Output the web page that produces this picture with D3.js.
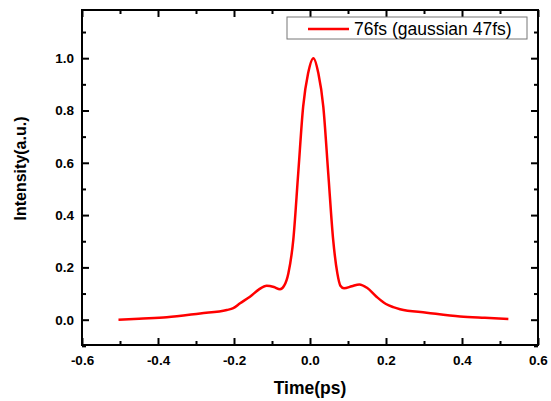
<!DOCTYPE html>
<html>
<head>
<meta charset="utf-8">
<script src="https://cdn.jsdelivr.net/npm/d3@7"></script>
<style>
  body { margin: 0; background: #fff; }
  text { font-family: Arial, "Liberation Sans", sans-serif; }
</style>
</head>
<body>
<svg id="chart" width="551" height="401"></svg>
<script>
// pulse trace
let timePs = [-0.504, -0.45, -0.377, -0.289, -0.219, -0.202, -0.184, -0.158, -0.135, -0.114, -0.095,
  -0.079, -0.068, -0.057, -0.044, -0.031, -0.018, -0.005, 0.009, 0.022, 0.035, 0.048, 0.061,
  0.072, 0.08, 0.0895, 0.11, 0.13, 0.15, 0.175, 0.2, 0.219, 0.237, 0.307, 0.395, 0.46, 0.522];
let intensity = [0.0, 0.004, 0.009, 0.024, 0.037, 0.044, 0.063, 0.088, 0.115, 0.130, 0.125,
  0.116, 0.13, 0.177, 0.305, 0.56, 0.815, 0.942, 1.0, 0.942, 0.815, 0.56, 0.305,
  0.177, 0.13, 0.12, 0.128, 0.135, 0.122, 0.088, 0.06, 0.048, 0.040, 0.027, 0.012, 0.007, 0.003];

let xTicks = [-0.6, -0.4, -0.2, 0.0, 0.2, 0.4, 0.6];
let xMinor = [-0.5, -0.3, -0.1, 0.1, 0.3, 0.5];
let yTicks = [0.0, 0.2, 0.4, 0.6, 0.8, 1.0];
let yMinor = [-0.1, 0.1, 0.3, 0.5, 0.7, 0.9, 1.1];
let seriesName = "76fs (gaussian 47fs)";

let svg = d3.select("#chart");
let pLeft = 82, pRight = 538, pTop = 10, pBottom = 345;

let x = d3.scaleLinear().domain([-0.6, 0.6]).range([pLeft, pRight]);
let y = d3.scaleLinear().domain([-0.1, 1.18]).range([345.85, 11.1]);

// axes with inward ticks on all four sides
function drawAxis(axis, tr, labels) {
  let g = svg.append("g").attr("transform", tr).call(axis);
  g.select(".domain").remove();
  g.selectAll("line").attr("stroke", "#000").attr("stroke-width", 2);
  if (!labels) g.selectAll("text").remove();
  else g.selectAll("text").attr("font-size", 13.5).attr("font-weight", "bold").attr("fill", "#000");
  return g;
}

// plain hyphen for negatives, like the original
let fmt = d => d3.format(".1f")(d).replace("\u2212", "-");
drawAxis(d3.axisBottom(x).tickValues(xTicks).tickSize(-7).tickPadding(10).tickFormat(fmt), `translate(0,${pBottom})`, true);
drawAxis(d3.axisBottom(x).tickValues(xMinor).tickSize(-4), `translate(0,${pBottom})`, false);
drawAxis(d3.axisTop(x).tickValues(xTicks).tickSize(-7), `translate(0,${pTop})`, false);
drawAxis(d3.axisTop(x).tickValues(xMinor).tickSize(-4), `translate(0,${pTop})`, false);
drawAxis(d3.axisLeft(y).tickValues(yTicks).tickSize(-7).tickPadding(8).tickFormat(fmt), `translate(${pLeft},0)`, true);
drawAxis(d3.axisLeft(y).tickValues(yMinor).tickSize(-4), `translate(${pLeft},0)`, false);
drawAxis(d3.axisRight(y).tickValues(yTicks).tickSize(-7), `translate(${pRight},0)`, false);
drawAxis(d3.axisRight(y).tickValues(yMinor).tickSize(-4), `translate(${pRight},0)`, false);

// frame
svg.append("rect")
  .attr("x", pLeft).attr("y", pTop)
  .attr("width", pRight - pLeft).attr("height", pBottom - pTop)
  .attr("fill", "none").attr("stroke", "#000").attr("stroke-width", 2);

// the curve
let pts = timePs.map((t, i) => [t, intensity[i]]);
let line = d3.line()
  .x(d => x(d[0]))
  .y(d => y(d[1]))
  .curve(d3.curveMonotoneX);

svg.append("path")
  .datum(pts)
  .attr("d", line)
  .attr("fill", "none")
  .attr("stroke", "#ff0000")
  .attr("stroke-width", 2.5)
  .attr("stroke-linejoin", "round");

// legend
let lg = svg.append("g");
lg.append("rect")
  .attr("x", 287).attr("y", 17).attr("width", 240).attr("height", 22)
  .attr("fill", "#fff").attr("stroke", "#777").attr("stroke-width", 1);
lg.append("line")
  .attr("x1", 308).attr("x2", 349).attr("y1", 29).attr("y2", 29)
  .attr("stroke", "#ff0000").attr("stroke-width", 2.5);
lg.append("text")
  .attr("x", 354).attr("y", 35)
  .attr("font-size", 17.5)
  .attr("fill", "#000")
  .text(seriesName);

// axis titles
svg.append("text")
  .attr("x", (pLeft + pRight) / 2).attr("y", 394)
  .attr("text-anchor", "middle")
  .attr("font-size", 17.5).attr("font-weight", "bold")
  .text("Time(ps)");

svg.append("text")
  .attr("transform", "translate(26,168.5) rotate(-90)")
  .attr("text-anchor", "middle")
  .attr("font-size", 16).attr("font-weight", "bold")
  .text("Intensity(a.u.)");
</script>
</body>
</html>
